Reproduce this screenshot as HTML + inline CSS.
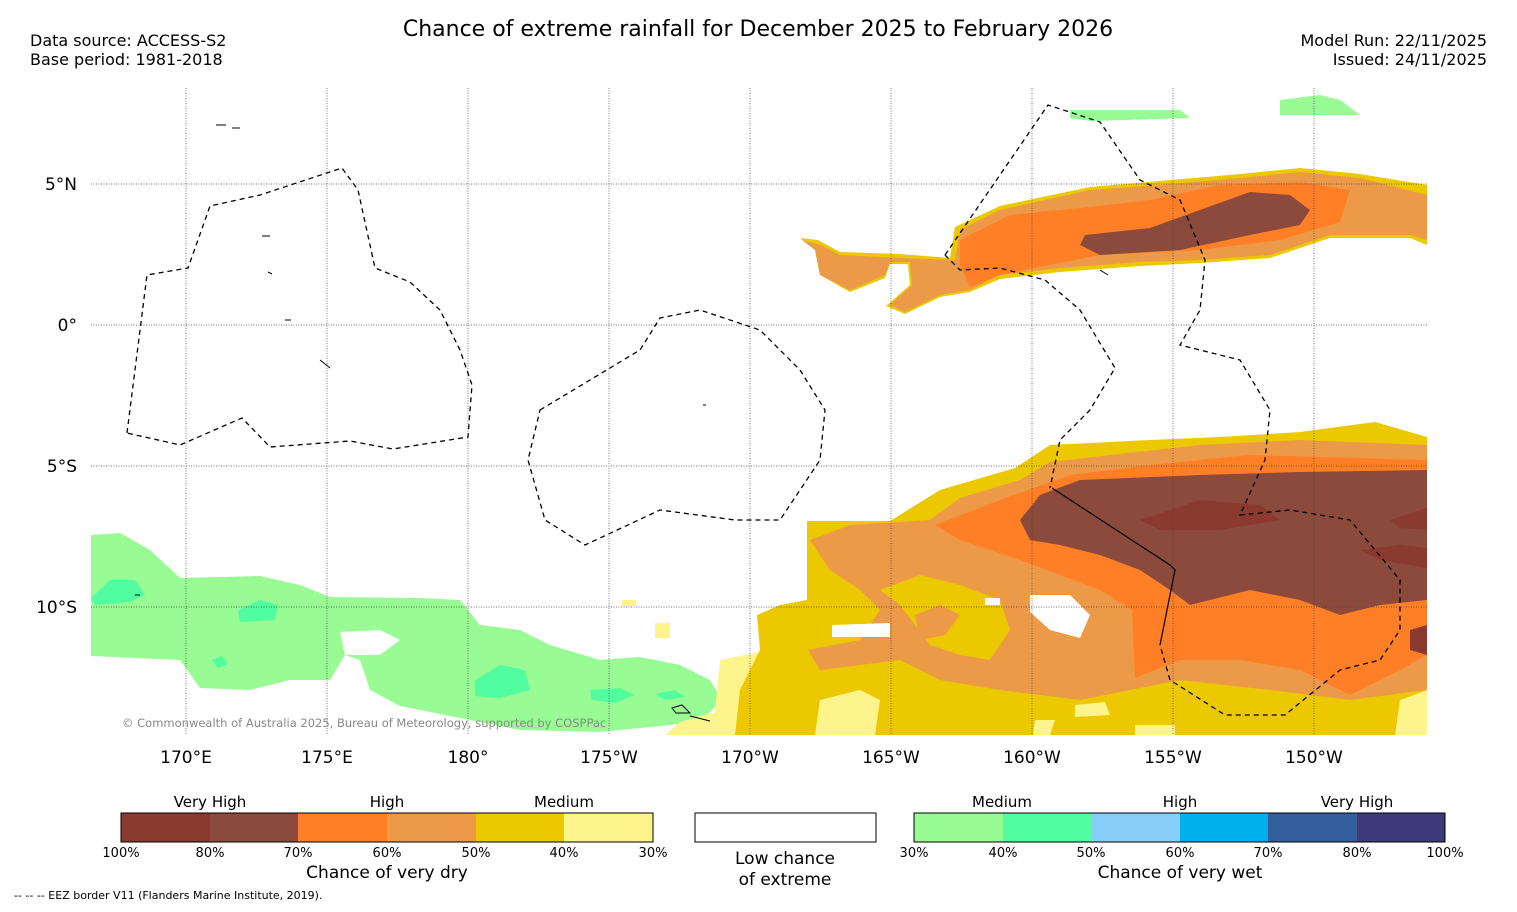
<!DOCTYPE html>
<html><head><meta charset="utf-8">
<style>
body{margin:0;background:#fff;font-family:"DejaVu Sans","Liberation Sans",sans-serif;}
svg text{font-family:"DejaVu Sans","Liberation Sans",sans-serif;}
</style></head>
<body>
<svg width="1517" height="908" viewBox="0 0 1517 908">
<text x="758" y="36" font-size="22" text-anchor="middle">Chance of extreme rainfall for December 2025 to February 2026</text>
<text x="30" y="46" font-size="16">Data source: ACCESS-S2</text>
<text x="30" y="65" font-size="16">Base period: 1981-2018</text>
<text x="1487" y="46" font-size="16" text-anchor="end">Model Run: 22/11/2025</text>
<text x="1487" y="65" font-size="16" text-anchor="end">Issued: 24/11/2025</text>

<g>
<clipPath id="mc"><rect x="91" y="88" width="1336" height="647"/></clipPath>
<g clip-path="url(#mc)">
<path fill="#99fb94" d="M91,535 L120,533 150,550 180,578 260,576 300,585 330,597 420,598 460,600 480,625 520,630 550,645 600,660 640,657 680,665 710,680 722,700 700,722 660,726 600,732 520,730 450,716 400,706 370,690 360,660 345,655 330,680 290,680 250,690 200,688 180,660 91,656Z"/>
<path fill="#fff" d="M340,632 L380,630 400,640 380,655 345,655Z"/>
<g fill="#52fda0">
<path d="M91,598 L110,580 135,580 145,595 130,602 95,605Z"/>
<path d="M238,610 L260,600 278,605 275,620 240,622Z"/>
<path d="M475,680 L500,665 525,670 530,690 500,698 475,696Z"/>
<path d="M590,690 L620,688 635,695 615,703 592,700Z"/>
<path d="M655,694 L675,690 685,697 665,700Z"/>
<path d="M212,660 L222,656 228,664 218,668Z"/>
</g>
<path fill="#ecc800" d="M800,238 L815,250 820,275 850,292 885,278 890,264 908,264 910,285 886,306 905,314 940,297 970,292 1000,279 1060,272 1140,266 1200,263 1270,258 1330,238 1410,238 1427,245 1427,185 1360,174 1300,168 1240,174 1160,181 1090,187 1000,206 955,227 950,258 900,254 840,252 818,240Z"/>
<path fill="#ec9a48" d="M802,240 L815,250 820,275 850,290 885,275 890,262 910,262 912,285 890,305 905,312 940,295 970,290 1000,275 1060,268 1140,262 1200,260 1270,255 1330,235 1410,235 1427,240 1427,195 1360,178 1300,172 1240,178 1160,185 1090,190 1000,210 960,230 955,260 900,258 840,255 820,245Z"/>
<path fill="#ff7f27" d="M960,240 L1010,215 1080,208 1150,200 1220,185 1300,182 1350,190 1340,222 1280,240 1200,250 1100,255 1050,265 1000,275 970,287 960,265Z"/>
<path fill="#8b4a3c" d="M1085,235 L1150,228 1200,210 1250,192 1290,195 1310,210 1300,225 1250,235 1180,250 1100,255 1080,245Z"/>
<path fill="#fdf48c" d="M720,660 L770,650 780,735 665,735 680,722 715,712Z"/>
<path fill="#fdf48c" d="M622,600 L636,600 636,606 622,606Z M655,623 L670,623 670,638 655,638Z"/>
<path fill="#ecc800" d="M807,521 L890,521 940,490 1015,468 1050,445 1150,440 1220,437 1300,432 1375,422 1427,437 L1427,735 735,735 740,690 760,650 757,615 780,605 807,600Z"/>
<g fill="#fdf48c">
<path d="M820,700 L860,690 880,700 875,735 815,735Z"/>
<path d="M1135,725 L1175,725 1175,735 1135,735Z M1075,705 L1105,702 1110,715 1075,717Z M1400,700 L1427,690 1427,735 1395,735Z M1035,720 L1055,720 1050,735 1033,735Z"/>
</g>
<path fill="#ec9a48" d="M810,540 L850,525 930,520 960,498 1020,480 1050,462 1110,455 1200,445 1300,440 1427,445 L1427,690 1350,700 1270,690 1180,680 1130,690 1080,700 1000,690 940,680 900,660 820,670 808,650 860,640 880,610 860,590 830,570Z"/>
<path fill="#ecc800" d="M880,590 L920,575 960,585 1000,600 1010,630 990,660 960,655 930,645 915,625 900,605Z"/>
<path fill="#ec9a48" d="M915,615 L940,605 960,615 945,635 920,640Z"/>
<path fill="#fff" d="M832,625 L890,623 890,637 832,637Z M1030,595 L1070,595 1090,615 1080,638 1050,630 1030,612Z M985,598 L1000,598 1000,605 985,605Z"/>
<path fill="#ff7f27" d="M935,525 L1000,500 1070,475 1150,465 1250,455 1427,460 L1427,655 1400,670 1350,695 1300,670 1240,660 1180,660 1135,678 1132,610 1100,590 1060,575 1020,560 960,540Z"/>
<path fill="#8b4a3c" d="M1020,520 L1040,495 1080,480 1200,475 1300,472 1427,470 L1427,600 1380,605 1340,615 1300,600 1250,590 1190,605 1170,590 1140,570 1100,555 1060,545 1030,540Z"/>
<path fill="#8b3a30" d="M1140,520 L1200,500 1260,505 1280,520 1220,530 1160,530Z M1390,520 L1427,508 1427,530 1400,528Z M1360,550 L1400,545 1427,548 1427,568 1380,560Z M1410,630 L1427,625 1427,655 1410,650Z"/>
<path fill="#99fb94" d="M1070,110 L1180,110 1190,118 1090,121 1070,118Z M1280,100 L1320,95 1340,100 1360,115 1280,115Z"/>
</g>
<g id="grid" stroke="#444" stroke-width="0.7" stroke-dasharray="1,1.5" fill="none"></g>
<g stroke="#000" stroke-width="1.3" stroke-dasharray="5,4" fill="none">
<path d="M127,433 L147,275 188,268 210,206 260,195 342,168 358,190 375,268 410,282 440,310 460,350 472,385 468,437 393,449 350,441 270,447 242,418 180,445 127,433"/>
<path d="M540,410 L640,350 660,318 700,310 760,330 800,370 825,410 820,460 780,520 735,520 660,510 585,545 545,520 528,460Z"/>
<path d="M945,255 L1048,105 1100,122 1140,180 1180,200 1205,260 1200,310 1180,345 1240,360 1270,410 1265,460 1240,515 1290,510 1350,520 1400,580 1400,630 1380,660 1340,670 1285,715 1225,715 1170,680 1160,645"/>
<path d="M945,255 L960,270 1000,268 1045,280 1080,310 1115,368 1090,410 1060,440 1050,488"/>
</g>
<path d="M1052,488 L1170,565 1175,570 1160,645" stroke="#000" stroke-width="1.2" fill="none"/>
<g fill="none" stroke="#000" stroke-width="1">
<path d="M216,125 h10 M232,128 h8 M262,236 h8 M268,272 l4,2 M285,320 h6 M320,360 l10,8 M672,708 l10,-3 8,8 -14,0Z M690,716 l20,5 M703,405 h3 M1100,270 l8,5 M135,595 h5"/>
</g>
<text x="122" y="727" font-size="11.5" fill="#888">© Commonwealth of Australia 2025, Bureau of Meteorology, supported by COSPPac</text>
</g>
<g id="ticks" font-size="17"></g>

<g font-size="15">
<text x="210" y="807" text-anchor="middle">Very High</text>
<text x="387" y="807" text-anchor="middle">High</text>
<text x="564" y="807" text-anchor="middle">Medium</text>
<rect x="121" y="813" width="89" height="29" fill="#8b3a30"/>
<rect x="210" y="813" width="88" height="29" fill="#8b4a3c"/>
<rect x="298" y="813" width="89" height="29" fill="#ff7f27"/>
<rect x="387" y="813" width="89" height="29" fill="#ec9a48"/>
<rect x="476" y="813" width="88" height="29" fill="#ecc800"/>
<rect x="564" y="813" width="89" height="29" fill="#fdf48c"/>
<rect x="121" y="813" width="532" height="29" fill="none" stroke="#000"/>
<g font-size="13" text-anchor="middle"><text x="121" y="857">100%</text><text x="210" y="857">80%</text><text x="298" y="857">70%</text><text x="387" y="857">60%</text><text x="476" y="857">50%</text><text x="564" y="857">40%</text><text x="653" y="857">30%</text></g>
<text x="387" y="878" font-size="17" text-anchor="middle">Chance of very dry</text>
</g>
<g>
<rect x="695" y="813" width="181" height="29" fill="#fff" stroke="#000"/>
<text x="785" y="864" font-size="17" text-anchor="middle">Low chance</text>
<text x="785" y="885" font-size="17" text-anchor="middle">of extreme</text>
</g>
<g font-size="15">
<text x="1002" y="807" text-anchor="middle">Medium</text>
<text x="1180" y="807" text-anchor="middle">High</text>
<text x="1357" y="807" text-anchor="middle">Very High</text>
<rect x="914" y="813" width="89" height="29" fill="#99fb94"/>
<rect x="1003" y="813" width="88" height="29" fill="#52fda0"/>
<rect x="1091" y="813" width="89" height="29" fill="#87cefa"/>
<rect x="1180" y="813" width="88" height="29" fill="#00b0eb"/>
<rect x="1268" y="813" width="89" height="29" fill="#355f9c"/>
<rect x="1357" y="813" width="88" height="29" fill="#3f3b7a"/>
<rect x="914" y="813" width="531" height="29" fill="none" stroke="#000"/>
<g font-size="13" text-anchor="middle"><text x="914" y="857">30%</text><text x="1003" y="857">40%</text><text x="1091" y="857">50%</text><text x="1180" y="857">60%</text><text x="1268" y="857">70%</text><text x="1357" y="857">80%</text><text x="1445" y="857">100%</text></g>
<text x="1180" y="878" font-size="17" text-anchor="middle">Chance of very wet</text>
</g>
<text x="14" y="899" font-size="11">--  --  -- EEZ border V11 (Flanders Marine Institute, 2019).</text>
</svg>
<script>
const lonTicks=[170,175,180,185,190,195,200,205,210];
const lonLabels=["170°E","175°E","180°","175°W","170°W","165°W","160°W","155°W","150°W"];
const latTicks=[5,0,-5,-10];
const latLabels=["5°N","0°","5°S","10°S"];
const xs=l=>186+(l-170)*28.2;
const ys=l=>325-l*28.2;
const NS="http://www.w3.org/2000/svg";
const g=document.getElementById('grid'),t=document.getElementById('ticks');
lonTicks.forEach((l,i)=>{
 const ln=document.createElementNS(NS,'line');
 ln.setAttribute('x1',xs(l));ln.setAttribute('x2',xs(l));ln.setAttribute('y1',88);ln.setAttribute('y2',735);
 
 
 g.appendChild(ln);
 const tx=document.createElementNS(NS,'text');
 tx.setAttribute('x',xs(l));tx.setAttribute('y',763);tx.setAttribute('text-anchor','middle');
 tx.textContent=lonLabels[i];
 
 
 t.appendChild(tx);
});
latTicks.forEach((l,i)=>{
 const ln=document.createElementNS(NS,'line');
 ln.setAttribute('x1',91);ln.setAttribute('x2',1427);ln.setAttribute('y1',ys(l));ln.setAttribute('y2',ys(l));
 
 
 g.appendChild(ln);
 const tx=document.createElementNS(NS,'text');
 tx.setAttribute('x',77);tx.setAttribute('y',ys(l)+6);tx.setAttribute('text-anchor','end');
 tx.textContent=latLabels[i];
 
 
 t.appendChild(tx);
});
</script>
</body></html>
